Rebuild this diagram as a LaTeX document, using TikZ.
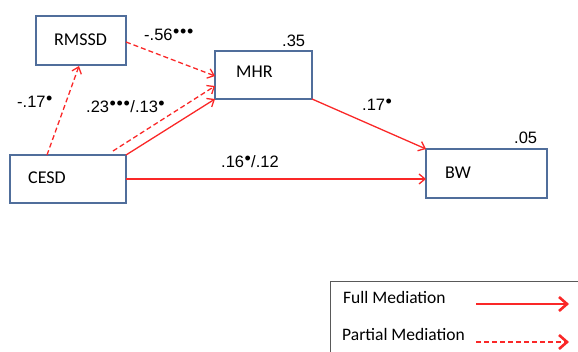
\documentclass[tikz,border=0pt]{standalone}
\usepackage{fontspec}
\setmainfont{Carlito}
\newfontfamily\numfont{Liberation Sans}
\usetikzlibrary{arrows.meta}
\definecolor{boxblue}{RGB}{80,110,155}
\definecolor{lnred}{RGB}{250,40,40}
\tikzset{
  varbox/.style={draw=boxblue, line width=1.6pt, minimum width=#1, minimum height=48pt, inner sep=0pt},
  varbox/.default=90pt,
  full/.style={draw=lnred, line width=1.3pt, -{Straight Barb[length=6pt,width=10pt]}},
  partial/.style={full, dash pattern=on 5pt off 3pt},
  coef/.style={font=\numfont\fontsize{16.5}{18}\selectfont, inner sep=0pt, anchor=west},
  lbl/.style={font=\fontsize{18}{20}\selectfont, inner sep=0pt, anchor=west},
  leg/.style={font=\fontsize{17.5}{20}\selectfont, inner sep=0pt, anchor=west},
  legarrow/.style={line width=2.6pt, -{Straight Barb[length=8pt,width=14pt]}},
}
\newcommand{\sg}{\kern0.4pt\raisebox{3pt}{\fontsize{18}{18}\selectfont •}\kern0.4pt}
\begin{document}
\begin{tikzpicture}[x=1pt,y=-1pt]
\useasboundingbox (0,0) rectangle (578,352);
\clip (0,0) rectangle (578,352);
% boxes
\node[varbox=90pt, minimum height=49pt] (rmssd) at (81,40.5) {};
\node[varbox=97pt, minimum height=48pt] (mhr) at (263.5,75) {};
\node[varbox=116pt, minimum height=48pt] (cesd) at (68,179) {};
\node[varbox=121pt, minimum height=49pt] (bw) at (486.5,173.5) {};
\node[lbl] (trmssd) at (54,40) {RMSSD};
\node[lbl] (tmhr) at (236,71.5) {MHR};
\node[lbl] (tcesd) at (28,178) {CESD};
\node[lbl] (tbw) at (445,173) {BW};
% r-squared
\node[coef] (r35) at (282,41) {.35};
\node[coef] (r05) at (514,138) {.05};
% connectors
\coordinate (c1) at (47,155);
\coordinate (r1) at (79,66);
\coordinate (c2) at (113,151);
\coordinate (m2) at (215,86);
\coordinate (c3) at (126,155);
\coordinate (m3) at (215,99);
\coordinate (rr) at (126,42);
\coordinate (ml) at (215,76);
\coordinate (mb) at (312,99);
\coordinate (bt) at (426,149);
\coordinate (cr) at (126,179);
\coordinate (bl) at (426,179);
\draw[partial] (c1) -- (r1);
\draw[partial] (rr) -- (ml);
\draw[partial] (c2) -- (m2);
\draw[full] (c3) -- (m3);
\draw[full] (mb) -- (bt);
\draw[full] (cr) -- (bl);
% coefficients
\node[coef] (k1) at (144,35) {-.56\sg\sg\sg};
\node[coef] (k2) at (17,102) {-.17\sg};
\node[coef] (k3) at (86,107) {.23\sg\sg\sg/.13\sg};
\node[coef] (k4) at (362,105) {.17\sg};
\node[coef] (k5) at (221,162) {.16\sg/.12};
% legend
\draw[draw=black!65, line width=0.8pt] (330,281) rectangle (600,370);
\node[leg] (lf) at (343,297) {Full Mediation};
\node[leg] (lp) at (342,334) {Partial Mediation};
\coordinate (lf1) at (476,304);
\coordinate (lf2) at (569,304);
\coordinate (lp1) at (476,342);
\coordinate (lp2) at (569,342);
\draw[full, legarrow] (lf1) -- (lf2);
\draw[partial, legarrow] (lp1) -- (lp2);
\end{tikzpicture}
\end{document}
